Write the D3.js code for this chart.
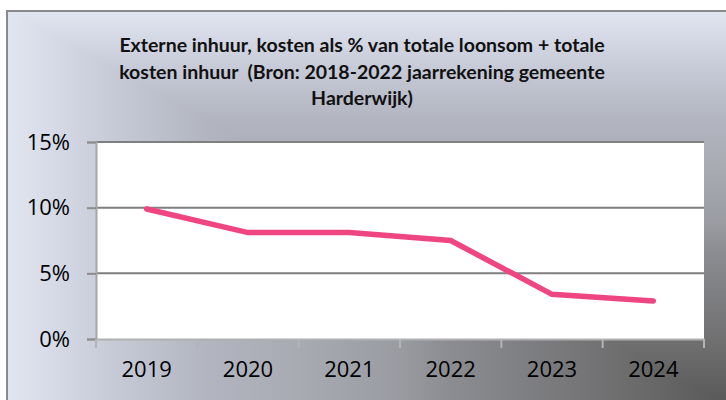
<!DOCTYPE html>
<meta charset="utf-8">
<style>
  body { margin: 0; background: #fff; }
  svg { display: block; }
</style>
<svg width="726" height="400"></svg>
<script src="https://cdn.jsdelivr.net/npm/d3@7/dist/d3.min.js"></script>
<script>

var years = ["2019", "2020", "2021", "2022", "2023", "2024"],
    share = [9.9, 8.1, 8.1, 7.5, 3.4, 2.9],
    yTicks = [0, 5, 10, 15],
    titleLines = [
      "Externe inhuur, kosten als % van totale loonsom + totale",
      "kosten inhuur  (Bron: 2018-2022 jaarrekening gemeente",
      "Harderwijk)"
    ];

var svg = d3.select("svg"),
    plot = {left: 96, right: 704, top: 142, bottom: 339};

// background: rectangular path gradient, dark in the bottom-right corner (730,405),
// light towards the frame corner (6,10)
var shades = [[0, "#585858"], [0.15, "#6e6e6f"], [0.39, "#8c8d92"], [0.46, "#9a9ca2"],
              [0.6, "#a8abb2"], [0.72, "#b2b5c0"], [0.85, "#c6cad6"], [0.95, "#d8dde9"], [1, "#e1e6f1"]];
var defs = svg.append("defs");

function grad(id, x1, y1, x2, y2) {
  var g = defs.append("linearGradient").attr("id", id)
      .attr("gradientUnits", "userSpaceOnUse")
      .attr("x1", x1).attr("y1", y1).attr("x2", x2).attr("y2", y2);
  g.selectAll("stop").data(shades).enter().append("stop")
      .attr("offset", function(d) { return d[0]; })
      .attr("stop-color", function(d) { return d[1]; });
}
grad("gv", 0, 405, 0, 10);
grad("gh", 730, 0, 6, 0);

svg.append("rect").attr("x", 6).attr("y", 10).attr("width", 800).attr("height", 500)
    .attr("fill", "url(#gv)");
svg.append("polygon").attr("points", "6,10 730,405 730,600 6,600")
    .attr("fill", "url(#gh)");
svg.append("rect").attr("x", 7).attr("y", 11).attr("width", 800).attr("height", 500)
    .attr("fill", "none").attr("stroke", "#8a8a8a").attr("stroke-width", 2);

// title
svg.append("text")
    .attr("text-anchor", "middle")
    .attr("xml:space", "preserve")
    .style("white-space", "pre")
    .style("font-family", "Lato, 'Open Sans', sans-serif")
    .style("font-weight", "bold")
    .style("font-size", "19.5px")
    .attr("fill", "#111")
  .selectAll("tspan").data(titleLines).enter().append("tspan")
    .attr("x", 362)
    .attr("y", function(d, i) { return 52 + i * 26.5; })
    .text(function(d) { return d; });

var x = d3.scaleBand().domain(years).range([plot.left, plot.right]).padding(0),
    y = d3.scaleLinear().domain([0, 15]).range([plot.bottom, plot.top]);

svg.append("rect")
    .attr("x", plot.left).attr("y", plot.top)
    .attr("width", plot.right - plot.left).attr("height", plot.bottom - plot.top)
    .attr("fill", "#fff");

// grid lines
svg.append("g").selectAll("line").data(yTicks.filter(function(d) { return d > 0; }))
  .enter().append("line")
    .attr("x1", plot.left).attr("x2", plot.right)
    .attr("y1", function(d) { return y(d); }).attr("y2", function(d) { return y(d); })
    .attr("stroke", "#7f7f7f").attr("stroke-width", 2);

// y axis
var yAxis = svg.append("g")
    .attr("transform", "translate(" + plot.left + ",0)")
    .call(d3.axisLeft(y).tickValues(yTicks).tickSize(9).tickPadding(17)
      .tickFormat(function(d) { return d + "%"; }));
yAxis.select(".domain").attr("stroke", "#a6a6a6").attr("stroke-width", 2);
yAxis.selectAll(".tick line").attr("stroke", "#8c8c8c").attr("stroke-width", 2);
yAxis.selectAll(".tick text")
    .style("font-family", "'Open Sans', sans-serif").style("font-size", "22px").attr("fill", "#000");

// x axis
var xAxis = svg.append("g")
    .attr("transform", "translate(0," + plot.bottom + ")")
    .call(d3.axisBottom(x).tickSize(0).tickPadding(22));
xAxis.select(".domain").attr("stroke", "#b0b0b0").attr("stroke-width", 2);
xAxis.selectAll(".tick text")
    .style("font-family", "'Open Sans', sans-serif").style("font-size", "22px").attr("fill", "#000");
xAxis.selectAll(".bound").data(years.concat(["end"])).enter().append("line")
    .attr("class", "bound")
    .attr("x1", function(d, i) { return plot.left + i * x.bandwidth(); })
    .attr("x2", function(d, i) { return plot.left + i * x.bandwidth(); })
    .attr("y1", 0).attr("y2", 9)
    .attr("stroke", "#b4b4b4").attr("stroke-width", 2);

// line
var line = d3.line()
    .x(function(d, i) { return x(years[i]) + x.bandwidth() / 2; })
    .y(function(d) { return y(d); });

svg.append("path")
    .datum(share)
    .attr("d", line)
    .attr("fill", "none")
    .attr("stroke", "#ef4580")
    .attr("stroke-width", 5.5)
    .attr("stroke-linecap", "round");

</script>
